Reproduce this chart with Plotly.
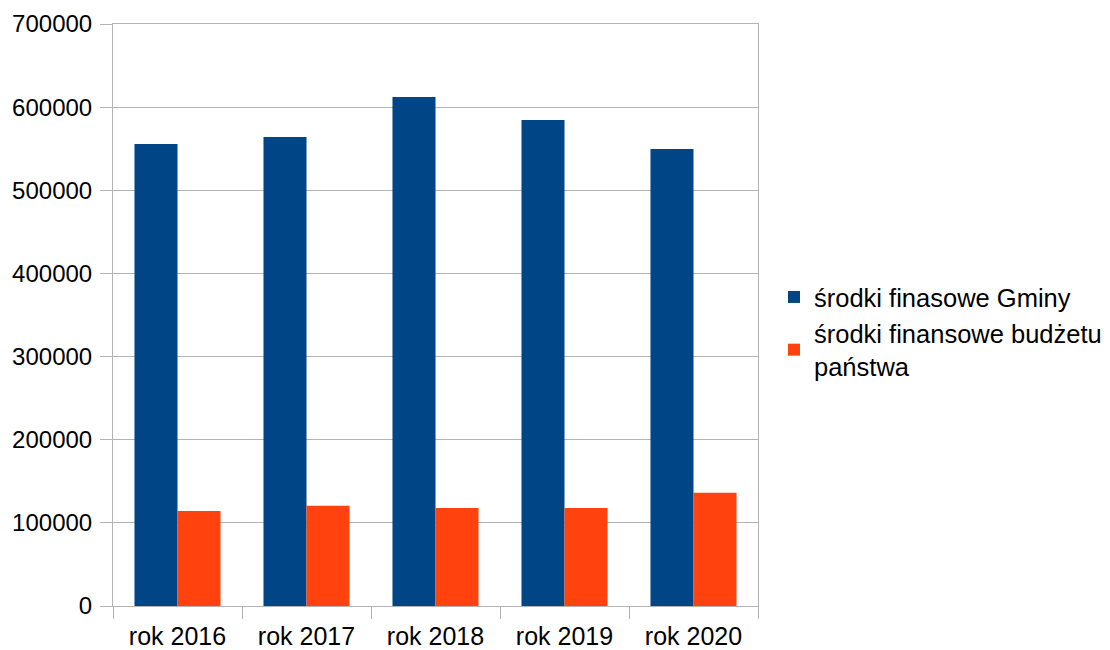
import plotly.graph_objects as go

categories = ["rok 2016", "rok 2017", "rok 2018", "rok 2019", "rok 2020"]
gmina = [555700, 564100, 612200, 584600, 549700]
budzet = [114300, 120600, 117900, 117900, 136300]
y_ticks = [0, 100000, 200000, 300000, 400000, 500000, 600000, 700000]

fig = go.Figure()
fig.add_trace(go.Bar(x=categories, y=gmina, name="środki finasowe Gminy",
                     marker=dict(color="#004586", line=dict(width=0))))
fig.add_trace(go.Bar(x=categories, y=budzet, name="środki finansowe budżetu<br>państwa",
                     marker=dict(color="#ff420e", line=dict(width=0))))

grid = "#b3b3b3"
fig.update_layout(
    width=1110, height=650,
    margin=dict(l=105, r=360, t=16, b=52, autoexpand=False),
    paper_bgcolor="white", plot_bgcolor="white",
    font=dict(family="Liberation Sans", size=24, color="black"),
    barmode="group", bargap=0.333, bargroupgap=0,
    legend=dict(x=1.0248, y=0.471, xanchor="left", yanchor="middle",
                font=dict(size=25.5), bgcolor="rgba(0,0,0,0)"),
    xaxis=dict(type="category", showgrid=False, showline=True, linecolor=grid, linewidth=1,
               mirror=True, ticks="outside", tickson="boundaries", ticklen=12,
               tickcolor=grid, tickfont=dict(size=25), automargin=False,
               ticklabelstandoff=8),
    yaxis=dict(range=[0, 700000], tickvals=y_ticks, ticktext=[str(v) for v in y_ticks],
               showgrid=True, gridcolor=grid, gridwidth=1, showline=True, linecolor=grid,
               mirror=True, ticks="outside", ticklen=12, tickcolor=grid, zeroline=False,
               tickfont=dict(size=24), automargin=False, ticklabelstandoff=3),
)
fig.write_html("out.html")
